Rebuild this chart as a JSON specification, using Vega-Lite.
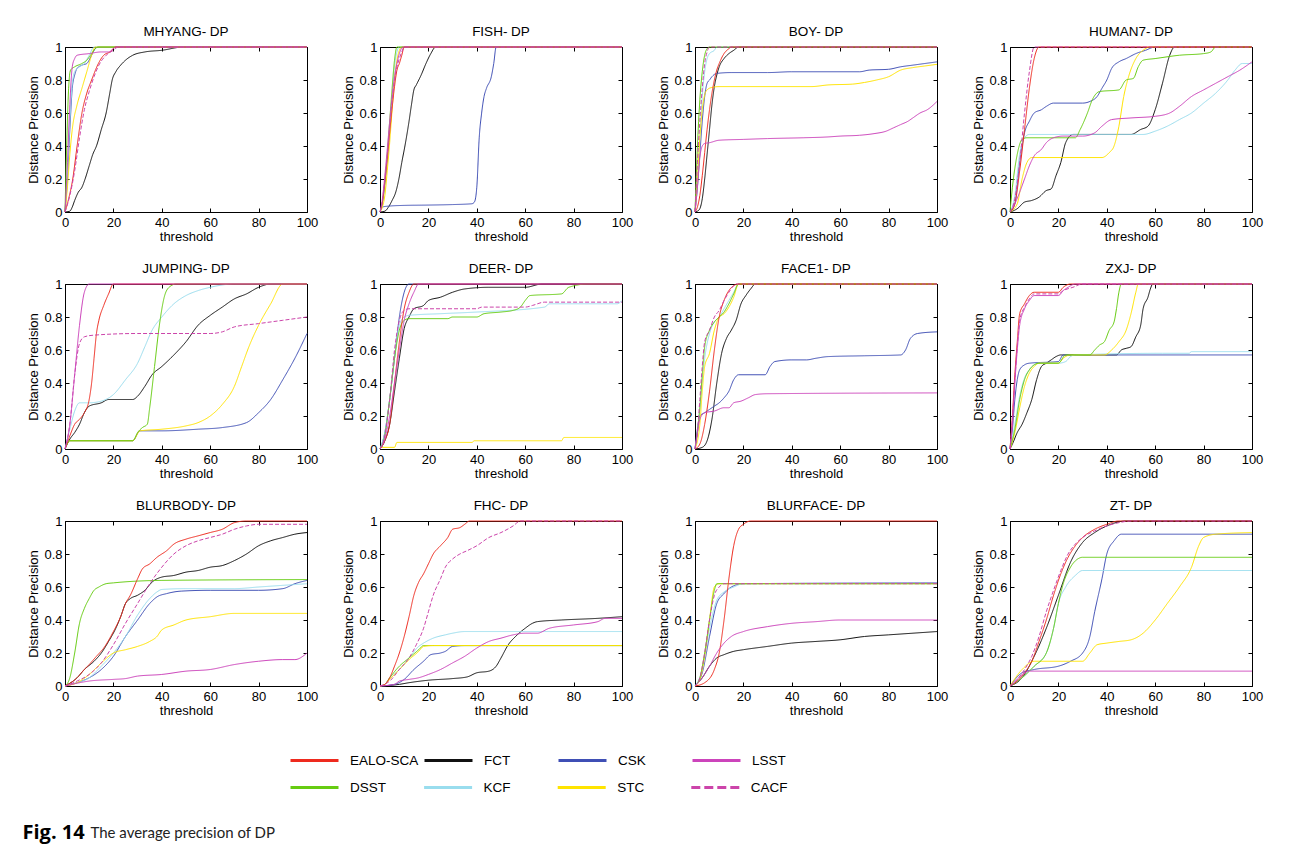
{
"$schema":"https://vega.github.io/schema/vega-lite/v6.json",
"background":"white",
"padding":{"left":22,"top":24,"right":5,"bottom":5},
"config":{
 "view":{"stroke":"black","strokeWidth":1},
 "axis":{"domain":false,"grid":false,"tickColor":"black","tickSize":-4,"labelFont":"Liberation Sans","labelFontSize":13,"labelColor":"black","labelFlush":false,"titleFont":"Liberation Sans","titleFontSize":13,"titleFontWeight":"normal","titleColor":"black"},
 "axisX":{"labelPadding":8},
 "axisY":{"labelPadding":7},
 "legend":{"columns":4,"direction":"horizontal","gridAlign":"all","symbolType":"stroke","symbolSize":2304,"symbolStrokeWidth":3,"labelFont":"Liberation Sans Narrow, Liberation Sans","labelFontSize":13.5,"labelColor":"black","labelOffset":10,"rowPadding":0}
},
"vconcat":[
{
"data":{"values":[
{"s":"MHYANG","t":"FCT","x":0,"y":0},{"s":"MHYANG","t":"FCT","x":2,"y":0.005},{"s":"MHYANG","t":"FCT","x":3,"y":0.03},{"s":"MHYANG","t":"FCT","x":4,"y":0.07},{"s":"MHYANG","t":"FCT","x":5.5,"y":0.12},{"s":"MHYANG","t":"FCT","x":7,"y":0.15},{"s":"MHYANG","t":"FCT","x":8.3,"y":0.2},{"s":"MHYANG","t":"FCT","x":10,"y":0.28},{"s":"MHYANG","t":"FCT","x":11.5,"y":0.35},{"s":"MHYANG","t":"FCT","x":13,"y":0.4},{"s":"MHYANG","t":"FCT","x":15,"y":0.5},{"s":"MHYANG","t":"FCT","x":17,"y":0.6},{"s":"MHYANG","t":"FCT","x":18.5,"y":0.72},{"s":"MHYANG","t":"FCT","x":19.5,"y":0.8},{"s":"MHYANG","t":"FCT","x":21,"y":0.85},{"s":"MHYANG","t":"FCT","x":23,"y":0.89},{"s":"MHYANG","t":"FCT","x":25,"y":0.92},{"s":"MHYANG","t":"FCT","x":28,"y":0.95},{"s":"MHYANG","t":"FCT","x":33,"y":0.97},{"s":"MHYANG","t":"FCT","x":40,"y":0.98},{"s":"MHYANG","t":"FCT","x":49,"y":1},{"s":"MHYANG","t":"FCT","x":100,"y":1},
{"s":"MHYANG","t":"CSK","x":0,"y":0},{"s":"MHYANG","t":"CSK","x":1,"y":0.2},{"s":"MHYANG","t":"CSK","x":2,"y":0.5},{"s":"MHYANG","t":"CSK","x":3,"y":0.75},{"s":"MHYANG","t":"CSK","x":4,"y":0.83},{"s":"MHYANG","t":"CSK","x":5,"y":0.87},{"s":"MHYANG","t":"CSK","x":7,"y":0.89},{"s":"MHYANG","t":"CSK","x":9,"y":0.9},{"s":"MHYANG","t":"CSK","x":11,"y":0.95},{"s":"MHYANG","t":"CSK","x":12.5,"y":0.99},{"s":"MHYANG","t":"CSK","x":13.5,"y":1},{"s":"MHYANG","t":"CSK","x":100,"y":1},
{"s":"MHYANG","t":"KCF","x":0,"y":0},{"s":"MHYANG","t":"KCF","x":1,"y":0.25},{"s":"MHYANG","t":"KCF","x":2,"y":0.55},{"s":"MHYANG","t":"KCF","x":3,"y":0.78},{"s":"MHYANG","t":"KCF","x":4,"y":0.85},{"s":"MHYANG","t":"KCF","x":6,"y":0.88},{"s":"MHYANG","t":"KCF","x":8,"y":0.9},{"s":"MHYANG","t":"KCF","x":10,"y":0.95},{"s":"MHYANG","t":"KCF","x":12,"y":1},{"s":"MHYANG","t":"KCF","x":100,"y":1},
{"s":"MHYANG","t":"STC","x":0,"y":0},{"s":"MHYANG","t":"STC","x":1,"y":0.15},{"s":"MHYANG","t":"STC","x":2,"y":0.35},{"s":"MHYANG","t":"STC","x":3,"y":0.5},{"s":"MHYANG","t":"STC","x":5,"y":0.65},{"s":"MHYANG","t":"STC","x":7,"y":0.75},{"s":"MHYANG","t":"STC","x":9,"y":0.85},{"s":"MHYANG","t":"STC","x":11,"y":0.95},{"s":"MHYANG","t":"STC","x":12.5,"y":1},{"s":"MHYANG","t":"STC","x":100,"y":1},
{"s":"MHYANG","t":"DSST","x":0,"y":0},{"s":"MHYANG","t":"DSST","x":0.7,"y":0.4},{"s":"MHYANG","t":"DSST","x":1.5,"y":0.75},{"s":"MHYANG","t":"DSST","x":2.3,"y":0.86},{"s":"MHYANG","t":"DSST","x":4,"y":0.88},{"s":"MHYANG","t":"DSST","x":7,"y":0.9},{"s":"MHYANG","t":"DSST","x":9,"y":0.92},{"s":"MHYANG","t":"DSST","x":11,"y":0.96},{"s":"MHYANG","t":"DSST","x":12.5,"y":0.99},{"s":"MHYANG","t":"DSST","x":14,"y":1},{"s":"MHYANG","t":"DSST","x":100,"y":1},
{"s":"MHYANG","t":"EALO-SCA","x":0,"y":0},{"s":"MHYANG","t":"EALO-SCA","x":1.5,"y":0.08},{"s":"MHYANG","t":"EALO-SCA","x":3.2,"y":0.2},{"s":"MHYANG","t":"EALO-SCA","x":5,"y":0.4},{"s":"MHYANG","t":"EALO-SCA","x":7,"y":0.6},{"s":"MHYANG","t":"EALO-SCA","x":9,"y":0.72},{"s":"MHYANG","t":"EALO-SCA","x":11,"y":0.8},{"s":"MHYANG","t":"EALO-SCA","x":13.8,"y":0.9},{"s":"MHYANG","t":"EALO-SCA","x":16,"y":0.95},{"s":"MHYANG","t":"EALO-SCA","x":18.6,"y":0.97},{"s":"MHYANG","t":"EALO-SCA","x":21,"y":1},{"s":"MHYANG","t":"EALO-SCA","x":100,"y":1},
{"s":"MHYANG","t":"CACF","x":0,"y":0},{"s":"MHYANG","t":"CACF","x":2,"y":0.1},{"s":"MHYANG","t":"CACF","x":4,"y":0.25},{"s":"MHYANG","t":"CACF","x":6,"y":0.45},{"s":"MHYANG","t":"CACF","x":8,"y":0.62},{"s":"MHYANG","t":"CACF","x":10,"y":0.73},{"s":"MHYANG","t":"CACF","x":12,"y":0.82},{"s":"MHYANG","t":"CACF","x":14,"y":0.89},{"s":"MHYANG","t":"CACF","x":17,"y":0.95},{"s":"MHYANG","t":"CACF","x":20,"y":0.98},{"s":"MHYANG","t":"CACF","x":22,"y":1},{"s":"MHYANG","t":"CACF","x":100,"y":1},
{"s":"MHYANG","t":"LSST","x":0,"y":0},{"s":"MHYANG","t":"LSST","x":1,"y":0.3},{"s":"MHYANG","t":"LSST","x":2,"y":0.65},{"s":"MHYANG","t":"LSST","x":3,"y":0.88},{"s":"MHYANG","t":"LSST","x":4,"y":0.93},{"s":"MHYANG","t":"LSST","x":5,"y":0.95},{"s":"MHYANG","t":"LSST","x":10,"y":0.96},{"s":"MHYANG","t":"LSST","x":15,"y":0.97},{"s":"MHYANG","t":"LSST","x":18,"y":0.97},{"s":"MHYANG","t":"LSST","x":20,"y":0.99},{"s":"MHYANG","t":"LSST","x":21,"y":1},{"s":"MHYANG","t":"LSST","x":100,"y":1},

{"s":"FISH","t":"FCT","x":0,"y":0},{"s":"FISH","t":"FCT","x":2,"y":0.005},{"s":"FISH","t":"FCT","x":3.5,"y":0.03},{"s":"FISH","t":"FCT","x":5,"y":0.07},{"s":"FISH","t":"FCT","x":6.5,"y":0.12},{"s":"FISH","t":"FCT","x":7.8,"y":0.2},{"s":"FISH","t":"FCT","x":9,"y":0.3},{"s":"FISH","t":"FCT","x":10.3,"y":0.4},{"s":"FISH","t":"FCT","x":12,"y":0.55},{"s":"FISH","t":"FCT","x":13,"y":0.65},{"s":"FISH","t":"FCT","x":14,"y":0.74},{"s":"FISH","t":"FCT","x":15,"y":0.77},{"s":"FISH","t":"FCT","x":17,"y":0.83},{"s":"FISH","t":"FCT","x":19,"y":0.9},{"s":"FISH","t":"FCT","x":21,"y":0.96},{"s":"FISH","t":"FCT","x":23,"y":1},{"s":"FISH","t":"FCT","x":100,"y":1},
{"s":"FISH","t":"CSK","x":0,"y":0.02},{"s":"FISH","t":"CSK","x":1,"y":0.03},{"s":"FISH","t":"CSK","x":3,"y":0.035},{"s":"FISH","t":"CSK","x":10,"y":0.04},{"s":"FISH","t":"CSK","x":20,"y":0.042},{"s":"FISH","t":"CSK","x":30,"y":0.045},{"s":"FISH","t":"CSK","x":38,"y":0.05},{"s":"FISH","t":"CSK","x":39,"y":0.06},{"s":"FISH","t":"CSK","x":40,"y":0.15},{"s":"FISH","t":"CSK","x":41,"y":0.45},{"s":"FISH","t":"CSK","x":42,"y":0.6},{"s":"FISH","t":"CSK","x":43,"y":0.7},{"s":"FISH","t":"CSK","x":44,"y":0.75},{"s":"FISH","t":"CSK","x":46,"y":0.82},{"s":"FISH","t":"CSK","x":47,"y":0.9},{"s":"FISH","t":"CSK","x":48,"y":1},{"s":"FISH","t":"CSK","x":100,"y":1},
{"s":"FISH","t":"KCF","x":0,"y":0},{"s":"FISH","t":"KCF","x":1,"y":0.05},{"s":"FISH","t":"KCF","x":2,"y":0.15},{"s":"FISH","t":"KCF","x":3,"y":0.3},{"s":"FISH","t":"KCF","x":4,"y":0.5},{"s":"FISH","t":"KCF","x":5,"y":0.7},{"s":"FISH","t":"KCF","x":6,"y":0.88},{"s":"FISH","t":"KCF","x":7,"y":0.97},{"s":"FISH","t":"KCF","x":8,"y":1},{"s":"FISH","t":"KCF","x":100,"y":1},
{"s":"FISH","t":"STC","x":0,"y":0},{"s":"FISH","t":"STC","x":1,"y":0.03},{"s":"FISH","t":"STC","x":2,"y":0.1},{"s":"FISH","t":"STC","x":3,"y":0.25},{"s":"FISH","t":"STC","x":4,"y":0.42},{"s":"FISH","t":"STC","x":5,"y":0.62},{"s":"FISH","t":"STC","x":6,"y":0.8},{"s":"FISH","t":"STC","x":7,"y":0.92},{"s":"FISH","t":"STC","x":8,"y":0.98},{"s":"FISH","t":"STC","x":9,"y":1},{"s":"FISH","t":"STC","x":100,"y":1},
{"s":"FISH","t":"DSST","x":0,"y":0},{"s":"FISH","t":"DSST","x":1,"y":0.06},{"s":"FISH","t":"DSST","x":2,"y":0.18},{"s":"FISH","t":"DSST","x":3,"y":0.35},{"s":"FISH","t":"DSST","x":4,"y":0.55},{"s":"FISH","t":"DSST","x":5,"y":0.75},{"s":"FISH","t":"DSST","x":6,"y":0.92},{"s":"FISH","t":"DSST","x":7,"y":1},{"s":"FISH","t":"DSST","x":100,"y":1},
{"s":"FISH","t":"EALO-SCA","x":0,"y":0},{"s":"FISH","t":"EALO-SCA","x":1,"y":0.06},{"s":"FISH","t":"EALO-SCA","x":2,"y":0.18},{"s":"FISH","t":"EALO-SCA","x":3,"y":0.32},{"s":"FISH","t":"EALO-SCA","x":4,"y":0.48},{"s":"FISH","t":"EALO-SCA","x":5,"y":0.63},{"s":"FISH","t":"EALO-SCA","x":6,"y":0.76},{"s":"FISH","t":"EALO-SCA","x":7,"y":0.86},{"s":"FISH","t":"EALO-SCA","x":8,"y":0.9},{"s":"FISH","t":"EALO-SCA","x":9,"y":0.95},{"s":"FISH","t":"EALO-SCA","x":10,"y":1},{"s":"FISH","t":"EALO-SCA","x":100,"y":1},
{"s":"FISH","t":"CACF","x":0,"y":0},{"s":"FISH","t":"CACF","x":1,"y":0.07},{"s":"FISH","t":"CACF","x":2,"y":0.2},{"s":"FISH","t":"CACF","x":3,"y":0.35},{"s":"FISH","t":"CACF","x":4,"y":0.52},{"s":"FISH","t":"CACF","x":5,"y":0.67},{"s":"FISH","t":"CACF","x":6,"y":0.8},{"s":"FISH","t":"CACF","x":7,"y":0.88},{"s":"FISH","t":"CACF","x":8,"y":0.93},{"s":"FISH","t":"CACF","x":9,"y":0.97},{"s":"FISH","t":"CACF","x":10,"y":1},{"s":"FISH","t":"CACF","x":100,"y":1},
{"s":"FISH","t":"LSST","x":0,"y":0},{"s":"FISH","t":"LSST","x":1,"y":0.08},{"s":"FISH","t":"LSST","x":2,"y":0.22},{"s":"FISH","t":"LSST","x":3,"y":0.38},{"s":"FISH","t":"LSST","x":4,"y":0.55},{"s":"FISH","t":"LSST","x":5,"y":0.7},{"s":"FISH","t":"LSST","x":6,"y":0.82},{"s":"FISH","t":"LSST","x":7,"y":0.9},{"s":"FISH","t":"LSST","x":8,"y":0.96},{"s":"FISH","t":"LSST","x":9.5,"y":1},{"s":"FISH","t":"LSST","x":100,"y":1},

{"s":"BOY","t":"FCT","x":0,"y":0},{"s":"BOY","t":"FCT","x":1,"y":0.005},{"s":"BOY","t":"FCT","x":2,"y":0.02},{"s":"BOY","t":"FCT","x":3,"y":0.08},{"s":"BOY","t":"FCT","x":4,"y":0.2},{"s":"BOY","t":"FCT","x":5,"y":0.35},{"s":"BOY","t":"FCT","x":6,"y":0.5},{"s":"BOY","t":"FCT","x":7,"y":0.65},{"s":"BOY","t":"FCT","x":8,"y":0.76},{"s":"BOY","t":"FCT","x":9,"y":0.83},{"s":"BOY","t":"FCT","x":10,"y":0.88},{"s":"BOY","t":"FCT","x":12,"y":0.93},{"s":"BOY","t":"FCT","x":14,"y":0.96},{"s":"BOY","t":"FCT","x":16,"y":0.98},{"s":"BOY","t":"FCT","x":18,"y":1},{"s":"BOY","t":"FCT","x":100,"y":1},
{"s":"BOY","t":"CSK","x":0,"y":0},{"s":"BOY","t":"CSK","x":1,"y":0.15},{"s":"BOY","t":"CSK","x":2,"y":0.35},{"s":"BOY","t":"CSK","x":3,"y":0.55},{"s":"BOY","t":"CSK","x":4,"y":0.7},{"s":"BOY","t":"CSK","x":5,"y":0.78},{"s":"BOY","t":"CSK","x":6,"y":0.8},{"s":"BOY","t":"CSK","x":7,"y":0.82},{"s":"BOY","t":"CSK","x":9,"y":0.84},{"s":"BOY","t":"CSK","x":15,"y":0.845},{"s":"BOY","t":"CSK","x":30,"y":0.845},{"s":"BOY","t":"CSK","x":40,"y":0.85},{"s":"BOY","t":"CSK","x":68,"y":0.85},{"s":"BOY","t":"CSK","x":72,"y":0.86},{"s":"BOY","t":"CSK","x":80,"y":0.865},{"s":"BOY","t":"CSK","x":85,"y":0.88},{"s":"BOY","t":"CSK","x":90,"y":0.89},{"s":"BOY","t":"CSK","x":95,"y":0.9},{"s":"BOY","t":"CSK","x":100,"y":0.91},
{"s":"BOY","t":"KCF","x":0,"y":0},{"s":"BOY","t":"KCF","x":1,"y":0.2},{"s":"BOY","t":"KCF","x":2,"y":0.45},{"s":"BOY","t":"KCF","x":3,"y":0.7},{"s":"BOY","t":"KCF","x":4,"y":0.85},{"s":"BOY","t":"KCF","x":5,"y":0.93},{"s":"BOY","t":"KCF","x":6,"y":0.96},{"s":"BOY","t":"KCF","x":8,"y":0.98},{"s":"BOY","t":"KCF","x":9,"y":1},{"s":"BOY","t":"KCF","x":100,"y":1},
{"s":"BOY","t":"STC","x":0,"y":0},{"s":"BOY","t":"STC","x":1,"y":0.2},{"s":"BOY","t":"STC","x":2,"y":0.45},{"s":"BOY","t":"STC","x":3,"y":0.62},{"s":"BOY","t":"STC","x":4,"y":0.71},{"s":"BOY","t":"STC","x":5,"y":0.74},{"s":"BOY","t":"STC","x":7,"y":0.755},{"s":"BOY","t":"STC","x":10,"y":0.76},{"s":"BOY","t":"STC","x":48,"y":0.76},{"s":"BOY","t":"STC","x":55,"y":0.77},{"s":"BOY","t":"STC","x":65,"y":0.775},{"s":"BOY","t":"STC","x":70,"y":0.785},{"s":"BOY","t":"STC","x":75,"y":0.8},{"s":"BOY","t":"STC","x":80,"y":0.82},{"s":"BOY","t":"STC","x":85,"y":0.86},{"s":"BOY","t":"STC","x":90,"y":0.875},{"s":"BOY","t":"STC","x":95,"y":0.885},{"s":"BOY","t":"STC","x":100,"y":0.895},
{"s":"BOY","t":"DSST","x":0,"y":0},{"s":"BOY","t":"DSST","x":0.5,"y":0.2},{"s":"BOY","t":"DSST","x":1,"y":0.4},{"s":"BOY","t":"DSST","x":1.5,"y":0.55},{"s":"BOY","t":"DSST","x":2,"y":0.68},{"s":"BOY","t":"DSST","x":3,"y":0.85},{"s":"BOY","t":"DSST","x":4,"y":0.95},{"s":"BOY","t":"DSST","x":5,"y":0.99},{"s":"BOY","t":"DSST","x":6,"y":1},{"s":"BOY","t":"DSST","x":100,"y":1},
{"s":"BOY","t":"EALO-SCA","x":0,"y":0},{"s":"BOY","t":"EALO-SCA","x":1,"y":0.03},{"s":"BOY","t":"EALO-SCA","x":2,"y":0.1},{"s":"BOY","t":"EALO-SCA","x":3,"y":0.22},{"s":"BOY","t":"EALO-SCA","x":4,"y":0.36},{"s":"BOY","t":"EALO-SCA","x":5,"y":0.5},{"s":"BOY","t":"EALO-SCA","x":6,"y":0.62},{"s":"BOY","t":"EALO-SCA","x":7,"y":0.72},{"s":"BOY","t":"EALO-SCA","x":8,"y":0.8},{"s":"BOY","t":"EALO-SCA","x":9,"y":0.86},{"s":"BOY","t":"EALO-SCA","x":10,"y":0.9},{"s":"BOY","t":"EALO-SCA","x":12,"y":0.96},{"s":"BOY","t":"EALO-SCA","x":14,"y":0.99},{"s":"BOY","t":"EALO-SCA","x":15,"y":1},{"s":"BOY","t":"EALO-SCA","x":100,"y":1},
{"s":"BOY","t":"CACF","x":0,"y":0},{"s":"BOY","t":"CACF","x":1,"y":0.3},{"s":"BOY","t":"CACF","x":2,"y":0.55},{"s":"BOY","t":"CACF","x":3,"y":0.75},{"s":"BOY","t":"CACF","x":4,"y":0.9},{"s":"BOY","t":"CACF","x":5,"y":0.97},{"s":"BOY","t":"CACF","x":6,"y":1},{"s":"BOY","t":"CACF","x":100,"y":1},
{"s":"BOY","t":"LSST","x":0,"y":0},{"s":"BOY","t":"LSST","x":1,"y":0.15},{"s":"BOY","t":"LSST","x":2,"y":0.33},{"s":"BOY","t":"LSST","x":3,"y":0.4},{"s":"BOY","t":"LSST","x":4,"y":0.415},{"s":"BOY","t":"LSST","x":6,"y":0.42},{"s":"BOY","t":"LSST","x":10,"y":0.435},{"s":"BOY","t":"LSST","x":20,"y":0.44},{"s":"BOY","t":"LSST","x":30,"y":0.445},{"s":"BOY","t":"LSST","x":45,"y":0.45},{"s":"BOY","t":"LSST","x":55,"y":0.455},{"s":"BOY","t":"LSST","x":60,"y":0.46},{"s":"BOY","t":"LSST","x":68,"y":0.465},{"s":"BOY","t":"LSST","x":74,"y":0.475},{"s":"BOY","t":"LSST","x":79,"y":0.49},{"s":"BOY","t":"LSST","x":82,"y":0.51},{"s":"BOY","t":"LSST","x":85,"y":0.53},{"s":"BOY","t":"LSST","x":88,"y":0.55},{"s":"BOY","t":"LSST","x":90,"y":0.57},{"s":"BOY","t":"LSST","x":93,"y":0.6},{"s":"BOY","t":"LSST","x":96,"y":0.62},{"s":"BOY","t":"LSST","x":100,"y":0.67},

{"s":"HUMAN7","t":"FCT","x":0,"y":0},{"s":"HUMAN7","t":"FCT","x":3,"y":0.02},{"s":"HUMAN7","t":"FCT","x":6,"y":0.06},{"s":"HUMAN7","t":"FCT","x":9,"y":0.07},{"s":"HUMAN7","t":"FCT","x":12,"y":0.09},{"s":"HUMAN7","t":"FCT","x":15,"y":0.13},{"s":"HUMAN7","t":"FCT","x":17,"y":0.14},{"s":"HUMAN7","t":"FCT","x":19,"y":0.22},{"s":"HUMAN7","t":"FCT","x":21,"y":0.3},{"s":"HUMAN7","t":"FCT","x":23,"y":0.42},{"s":"HUMAN7","t":"FCT","x":26,"y":0.47},{"s":"HUMAN7","t":"FCT","x":50,"y":0.47},{"s":"HUMAN7","t":"FCT","x":54,"y":0.5},{"s":"HUMAN7","t":"FCT","x":57,"y":0.52},{"s":"HUMAN7","t":"FCT","x":60,"y":0.62},{"s":"HUMAN7","t":"FCT","x":63,"y":0.78},{"s":"HUMAN7","t":"FCT","x":66,"y":0.95},{"s":"HUMAN7","t":"FCT","x":68,"y":1},{"s":"HUMAN7","t":"FCT","x":100,"y":1},
{"s":"HUMAN7","t":"CSK","x":0,"y":0},{"s":"HUMAN7","t":"CSK","x":2,"y":0.05},{"s":"HUMAN7","t":"CSK","x":4,"y":0.3},{"s":"HUMAN7","t":"CSK","x":6,"y":0.48},{"s":"HUMAN7","t":"CSK","x":8,"y":0.55},{"s":"HUMAN7","t":"CSK","x":10,"y":0.6},{"s":"HUMAN7","t":"CSK","x":13,"y":0.62},{"s":"HUMAN7","t":"CSK","x":15,"y":0.64},{"s":"HUMAN7","t":"CSK","x":18,"y":0.66},{"s":"HUMAN7","t":"CSK","x":30,"y":0.66},{"s":"HUMAN7","t":"CSK","x":33,"y":0.67},{"s":"HUMAN7","t":"CSK","x":36,"y":0.7},{"s":"HUMAN7","t":"CSK","x":38,"y":0.75},{"s":"HUMAN7","t":"CSK","x":40,"y":0.8},{"s":"HUMAN7","t":"CSK","x":42,"y":0.87},{"s":"HUMAN7","t":"CSK","x":45,"y":0.91},{"s":"HUMAN7","t":"CSK","x":48,"y":0.93},{"s":"HUMAN7","t":"CSK","x":52,"y":0.96},{"s":"HUMAN7","t":"CSK","x":56,"y":0.98},{"s":"HUMAN7","t":"CSK","x":60,"y":1},{"s":"HUMAN7","t":"CSK","x":100,"y":1},
{"s":"HUMAN7","t":"KCF","x":0,"y":0},{"s":"HUMAN7","t":"KCF","x":2,"y":0.1},{"s":"HUMAN7","t":"KCF","x":4,"y":0.35},{"s":"HUMAN7","t":"KCF","x":6,"y":0.45},{"s":"HUMAN7","t":"KCF","x":8,"y":0.47},{"s":"HUMAN7","t":"KCF","x":55,"y":0.47},{"s":"HUMAN7","t":"KCF","x":60,"y":0.49},{"s":"HUMAN7","t":"KCF","x":65,"y":0.52},{"s":"HUMAN7","t":"KCF","x":70,"y":0.56},{"s":"HUMAN7","t":"KCF","x":75,"y":0.6},{"s":"HUMAN7","t":"KCF","x":80,"y":0.66},{"s":"HUMAN7","t":"KCF","x":85,"y":0.72},{"s":"HUMAN7","t":"KCF","x":90,"y":0.8},{"s":"HUMAN7","t":"KCF","x":93,"y":0.86},{"s":"HUMAN7","t":"KCF","x":96,"y":0.9},{"s":"HUMAN7","t":"KCF","x":100,"y":0.9},
{"s":"HUMAN7","t":"STC","x":0,"y":0},{"s":"HUMAN7","t":"STC","x":3,"y":0.05},{"s":"HUMAN7","t":"STC","x":5,"y":0.2},{"s":"HUMAN7","t":"STC","x":7,"y":0.3},{"s":"HUMAN7","t":"STC","x":9,"y":0.33},{"s":"HUMAN7","t":"STC","x":38,"y":0.33},{"s":"HUMAN7","t":"STC","x":41,"y":0.36},{"s":"HUMAN7","t":"STC","x":43,"y":0.4},{"s":"HUMAN7","t":"STC","x":45,"y":0.52},{"s":"HUMAN7","t":"STC","x":47,"y":0.7},{"s":"HUMAN7","t":"STC","x":49,"y":0.82},{"s":"HUMAN7","t":"STC","x":52,"y":0.93},{"s":"HUMAN7","t":"STC","x":55,"y":0.98},{"s":"HUMAN7","t":"STC","x":58,"y":1},{"s":"HUMAN7","t":"STC","x":100,"y":1},
{"s":"HUMAN7","t":"DSST","x":0,"y":0},{"s":"HUMAN7","t":"DSST","x":1,"y":0.15},{"s":"HUMAN7","t":"DSST","x":3,"y":0.35},{"s":"HUMAN7","t":"DSST","x":5,"y":0.44},{"s":"HUMAN7","t":"DSST","x":7,"y":0.45},{"s":"HUMAN7","t":"DSST","x":27,"y":0.45},{"s":"HUMAN7","t":"DSST","x":29,"y":0.5},{"s":"HUMAN7","t":"DSST","x":32,"y":0.6},{"s":"HUMAN7","t":"DSST","x":34,"y":0.68},{"s":"HUMAN7","t":"DSST","x":37,"y":0.73},{"s":"HUMAN7","t":"DSST","x":45,"y":0.74},{"s":"HUMAN7","t":"DSST","x":48,"y":0.8},{"s":"HUMAN7","t":"DSST","x":51,"y":0.81},{"s":"HUMAN7","t":"DSST","x":53,"y":0.88},{"s":"HUMAN7","t":"DSST","x":55,"y":0.92},{"s":"HUMAN7","t":"DSST","x":60,"y":0.93},{"s":"HUMAN7","t":"DSST","x":70,"y":0.95},{"s":"HUMAN7","t":"DSST","x":80,"y":0.96},{"s":"HUMAN7","t":"DSST","x":83,"y":0.97},{"s":"HUMAN7","t":"DSST","x":85,"y":1},{"s":"HUMAN7","t":"DSST","x":100,"y":1},
{"s":"HUMAN7","t":"EALO-SCA","x":0,"y":0},{"s":"HUMAN7","t":"EALO-SCA","x":2,"y":0.05},{"s":"HUMAN7","t":"EALO-SCA","x":4,"y":0.25},{"s":"HUMAN7","t":"EALO-SCA","x":6,"y":0.5},{"s":"HUMAN7","t":"EALO-SCA","x":8,"y":0.75},{"s":"HUMAN7","t":"EALO-SCA","x":10,"y":0.93},{"s":"HUMAN7","t":"EALO-SCA","x":12,"y":1},{"s":"HUMAN7","t":"EALO-SCA","x":100,"y":1},
{"s":"HUMAN7","t":"CACF","x":0,"y":0},{"s":"HUMAN7","t":"CACF","x":2,"y":0.08},{"s":"HUMAN7","t":"CACF","x":4,"y":0.3},{"s":"HUMAN7","t":"CACF","x":6,"y":0.6},{"s":"HUMAN7","t":"CACF","x":8,"y":0.85},{"s":"HUMAN7","t":"CACF","x":10,"y":1},{"s":"HUMAN7","t":"CACF","x":100,"y":1},
{"s":"HUMAN7","t":"LSST","x":0,"y":0},{"s":"HUMAN7","t":"LSST","x":2,"y":0.05},{"s":"HUMAN7","t":"LSST","x":4,"y":0.12},{"s":"HUMAN7","t":"LSST","x":6,"y":0.2},{"s":"HUMAN7","t":"LSST","x":8,"y":0.28},{"s":"HUMAN7","t":"LSST","x":10,"y":0.34},{"s":"HUMAN7","t":"LSST","x":13,"y":0.38},{"s":"HUMAN7","t":"LSST","x":15,"y":0.42},{"s":"HUMAN7","t":"LSST","x":18,"y":0.45},{"s":"HUMAN7","t":"LSST","x":22,"y":0.46},{"s":"HUMAN7","t":"LSST","x":30,"y":0.46},{"s":"HUMAN7","t":"LSST","x":35,"y":0.48},{"s":"HUMAN7","t":"LSST","x":38,"y":0.52},{"s":"HUMAN7","t":"LSST","x":42,"y":0.56},{"s":"HUMAN7","t":"LSST","x":50,"y":0.57},{"s":"HUMAN7","t":"LSST","x":60,"y":0.58},{"s":"HUMAN7","t":"LSST","x":66,"y":0.6},{"s":"HUMAN7","t":"LSST","x":70,"y":0.64},{"s":"HUMAN7","t":"LSST","x":75,"y":0.7},{"s":"HUMAN7","t":"LSST","x":80,"y":0.74},{"s":"HUMAN7","t":"LSST","x":85,"y":0.78},{"s":"HUMAN7","t":"LSST","x":90,"y":0.82},{"s":"HUMAN7","t":"LSST","x":95,"y":0.86},{"s":"HUMAN7","t":"LSST","x":100,"y":0.91},

{"s":"JUMPING","t":"FCT","x":0,"y":0},{"s":"JUMPING","t":"FCT","x":2,"y":0.06},{"s":"JUMPING","t":"FCT","x":4,"y":0.1},{"s":"JUMPING","t":"FCT","x":6,"y":0.15},{"s":"JUMPING","t":"FCT","x":8,"y":0.22},{"s":"JUMPING","t":"FCT","x":10,"y":0.26},{"s":"JUMPING","t":"FCT","x":15,"y":0.28},{"s":"JUMPING","t":"FCT","x":18,"y":0.3},{"s":"JUMPING","t":"FCT","x":28,"y":0.3},{"s":"JUMPING","t":"FCT","x":30,"y":0.32},{"s":"JUMPING","t":"FCT","x":33,"y":0.38},{"s":"JUMPING","t":"FCT","x":36,"y":0.45},{"s":"JUMPING","t":"FCT","x":40,"y":0.5},{"s":"JUMPING","t":"FCT","x":45,"y":0.57},{"s":"JUMPING","t":"FCT","x":50,"y":0.65},{"s":"JUMPING","t":"FCT","x":55,"y":0.75},{"s":"JUMPING","t":"FCT","x":60,"y":0.81},{"s":"JUMPING","t":"FCT","x":65,"y":0.86},{"s":"JUMPING","t":"FCT","x":70,"y":0.91},{"s":"JUMPING","t":"FCT","x":75,"y":0.94},{"s":"JUMPING","t":"FCT","x":80,"y":0.98},{"s":"JUMPING","t":"FCT","x":85,"y":1},{"s":"JUMPING","t":"FCT","x":100,"y":1},
{"s":"JUMPING","t":"CSK","x":0,"y":0},{"s":"JUMPING","t":"CSK","x":2,"y":0.05},{"s":"JUMPING","t":"CSK","x":28,"y":0.05},{"s":"JUMPING","t":"CSK","x":31,"y":0.11},{"s":"JUMPING","t":"CSK","x":40,"y":0.11},{"s":"JUMPING","t":"CSK","x":55,"y":0.12},{"s":"JUMPING","t":"CSK","x":65,"y":0.13},{"s":"JUMPING","t":"CSK","x":75,"y":0.16},{"s":"JUMPING","t":"CSK","x":80,"y":0.22},{"s":"JUMPING","t":"CSK","x":85,"y":0.3},{"s":"JUMPING","t":"CSK","x":90,"y":0.42},{"s":"JUMPING","t":"CSK","x":95,"y":0.55},{"s":"JUMPING","t":"CSK","x":100,"y":0.7},
{"s":"JUMPING","t":"KCF","x":0,"y":0},{"s":"JUMPING","t":"KCF","x":2,"y":0.12},{"s":"JUMPING","t":"KCF","x":4,"y":0.23},{"s":"JUMPING","t":"KCF","x":6,"y":0.28},{"s":"JUMPING","t":"KCF","x":10,"y":0.28},{"s":"JUMPING","t":"KCF","x":15,"y":0.29},{"s":"JUMPING","t":"KCF","x":20,"y":0.33},{"s":"JUMPING","t":"KCF","x":25,"y":0.42},{"s":"JUMPING","t":"KCF","x":30,"y":0.52},{"s":"JUMPING","t":"KCF","x":33,"y":0.62},{"s":"JUMPING","t":"KCF","x":36,"y":0.72},{"s":"JUMPING","t":"KCF","x":40,"y":0.8},{"s":"JUMPING","t":"KCF","x":45,"y":0.88},{"s":"JUMPING","t":"KCF","x":50,"y":0.93},{"s":"JUMPING","t":"KCF","x":55,"y":0.96},{"s":"JUMPING","t":"KCF","x":60,"y":0.98},{"s":"JUMPING","t":"KCF","x":70,"y":1},{"s":"JUMPING","t":"KCF","x":100,"y":1},
{"s":"JUMPING","t":"STC","x":0,"y":0},{"s":"JUMPING","t":"STC","x":2,"y":0.05},{"s":"JUMPING","t":"STC","x":28,"y":0.05},{"s":"JUMPING","t":"STC","x":31,"y":0.11},{"s":"JUMPING","t":"STC","x":40,"y":0.12},{"s":"JUMPING","t":"STC","x":50,"y":0.14},{"s":"JUMPING","t":"STC","x":55,"y":0.16},{"s":"JUMPING","t":"STC","x":60,"y":0.2},{"s":"JUMPING","t":"STC","x":65,"y":0.27},{"s":"JUMPING","t":"STC","x":70,"y":0.38},{"s":"JUMPING","t":"STC","x":73,"y":0.5},{"s":"JUMPING","t":"STC","x":76,"y":0.62},{"s":"JUMPING","t":"STC","x":80,"y":0.75},{"s":"JUMPING","t":"STC","x":85,"y":0.88},{"s":"JUMPING","t":"STC","x":90,"y":1},{"s":"JUMPING","t":"STC","x":100,"y":1},
{"s":"JUMPING","t":"DSST","x":0,"y":0},{"s":"JUMPING","t":"DSST","x":2,"y":0.05},{"s":"JUMPING","t":"DSST","x":28,"y":0.05},{"s":"JUMPING","t":"DSST","x":30,"y":0.1},{"s":"JUMPING","t":"DSST","x":32,"y":0.13},{"s":"JUMPING","t":"DSST","x":34,"y":0.15},{"s":"JUMPING","t":"DSST","x":35,"y":0.25},{"s":"JUMPING","t":"DSST","x":37,"y":0.5},{"s":"JUMPING","t":"DSST","x":39,"y":0.75},{"s":"JUMPING","t":"DSST","x":41,"y":0.92},{"s":"JUMPING","t":"DSST","x":43,"y":0.98},{"s":"JUMPING","t":"DSST","x":46,"y":1},{"s":"JUMPING","t":"DSST","x":100,"y":1},
{"s":"JUMPING","t":"EALO-SCA","x":0,"y":0},{"s":"JUMPING","t":"EALO-SCA","x":2,"y":0.08},{"s":"JUMPING","t":"EALO-SCA","x":4,"y":0.15},{"s":"JUMPING","t":"EALO-SCA","x":6,"y":0.18},{"s":"JUMPING","t":"EALO-SCA","x":8,"y":0.22},{"s":"JUMPING","t":"EALO-SCA","x":10,"y":0.3},{"s":"JUMPING","t":"EALO-SCA","x":11,"y":0.4},{"s":"JUMPING","t":"EALO-SCA","x":12,"y":0.55},{"s":"JUMPING","t":"EALO-SCA","x":13,"y":0.7},{"s":"JUMPING","t":"EALO-SCA","x":14,"y":0.78},{"s":"JUMPING","t":"EALO-SCA","x":16,"y":0.87},{"s":"JUMPING","t":"EALO-SCA","x":18,"y":0.94},{"s":"JUMPING","t":"EALO-SCA","x":20,"y":1},{"s":"JUMPING","t":"EALO-SCA","x":100,"y":1},
{"s":"JUMPING","t":"CACF","x":0,"y":0},{"s":"JUMPING","t":"CACF","x":2,"y":0.15},{"s":"JUMPING","t":"CACF","x":4,"y":0.45},{"s":"JUMPING","t":"CACF","x":6,"y":0.64},{"s":"JUMPING","t":"CACF","x":8,"y":0.68},{"s":"JUMPING","t":"CACF","x":12,"y":0.69},{"s":"JUMPING","t":"CACF","x":30,"y":0.7},{"s":"JUMPING","t":"CACF","x":60,"y":0.7},{"s":"JUMPING","t":"CACF","x":65,"y":0.71},{"s":"JUMPING","t":"CACF","x":70,"y":0.74},{"s":"JUMPING","t":"CACF","x":80,"y":0.76},{"s":"JUMPING","t":"CACF","x":90,"y":0.78},{"s":"JUMPING","t":"CACF","x":100,"y":0.8},
{"s":"JUMPING","t":"LSST","x":0,"y":0},{"s":"JUMPING","t":"LSST","x":2,"y":0.15},{"s":"JUMPING","t":"LSST","x":4,"y":0.45},{"s":"JUMPING","t":"LSST","x":6,"y":0.75},{"s":"JUMPING","t":"LSST","x":8,"y":0.95},{"s":"JUMPING","t":"LSST","x":10,"y":1},{"s":"JUMPING","t":"LSST","x":100,"y":1},

{"s":"DEER","t":"FCT","x":0,"y":0},{"s":"DEER","t":"FCT","x":2,"y":0.05},{"s":"DEER","t":"FCT","x":4,"y":0.15},{"s":"DEER","t":"FCT","x":6,"y":0.35},{"s":"DEER","t":"FCT","x":8,"y":0.55},{"s":"DEER","t":"FCT","x":10,"y":0.73},{"s":"DEER","t":"FCT","x":12,"y":0.8},{"s":"DEER","t":"FCT","x":14,"y":0.85},{"s":"DEER","t":"FCT","x":18,"y":0.87},{"s":"DEER","t":"FCT","x":20,"y":0.9},{"s":"DEER","t":"FCT","x":25,"y":0.92},{"s":"DEER","t":"FCT","x":30,"y":0.95},{"s":"DEER","t":"FCT","x":35,"y":0.97},{"s":"DEER","t":"FCT","x":45,"y":0.98},{"s":"DEER","t":"FCT","x":60,"y":0.98},{"s":"DEER","t":"FCT","x":67,"y":1},{"s":"DEER","t":"FCT","x":100,"y":1},
{"s":"DEER","t":"CSK","x":0,"y":0},{"s":"DEER","t":"CSK","x":2,"y":0.1},{"s":"DEER","t":"CSK","x":4,"y":0.3},{"s":"DEER","t":"CSK","x":6,"y":0.55},{"s":"DEER","t":"CSK","x":8,"y":0.8},{"s":"DEER","t":"CSK","x":10,"y":0.95},{"s":"DEER","t":"CSK","x":12,"y":1},{"s":"DEER","t":"CSK","x":100,"y":1},
{"s":"DEER","t":"KCF","x":0,"y":0},{"s":"DEER","t":"KCF","x":2,"y":0.1},{"s":"DEER","t":"KCF","x":4,"y":0.3},{"s":"DEER","t":"KCF","x":6,"y":0.55},{"s":"DEER","t":"KCF","x":8,"y":0.75},{"s":"DEER","t":"KCF","x":10,"y":0.8},{"s":"DEER","t":"KCF","x":12,"y":0.81},{"s":"DEER","t":"KCF","x":25,"y":0.82},{"s":"DEER","t":"KCF","x":40,"y":0.83},{"s":"DEER","t":"KCF","x":68,"y":0.86},{"s":"DEER","t":"KCF","x":70,"y":0.88},{"s":"DEER","t":"KCF","x":98,"y":0.88},{"s":"DEER","t":"KCF","x":100,"y":0.9},
{"s":"DEER","t":"STC","x":0,"y":0.01},{"s":"DEER","t":"STC","x":6,"y":0.01},{"s":"DEER","t":"STC","x":7,"y":0.04},{"s":"DEER","t":"STC","x":38,"y":0.04},{"s":"DEER","t":"STC","x":39,"y":0.05},{"s":"DEER","t":"STC","x":75,"y":0.05},{"s":"DEER","t":"STC","x":76,"y":0.07},{"s":"DEER","t":"STC","x":100,"y":0.07},
{"s":"DEER","t":"DSST","x":0,"y":0},{"s":"DEER","t":"DSST","x":2,"y":0.08},{"s":"DEER","t":"DSST","x":4,"y":0.3},{"s":"DEER","t":"DSST","x":6,"y":0.55},{"s":"DEER","t":"DSST","x":8,"y":0.72},{"s":"DEER","t":"DSST","x":10,"y":0.78},{"s":"DEER","t":"DSST","x":12,"y":0.79},{"s":"DEER","t":"DSST","x":28,"y":0.79},{"s":"DEER","t":"DSST","x":30,"y":0.8},{"s":"DEER","t":"DSST","x":40,"y":0.8},{"s":"DEER","t":"DSST","x":43,"y":0.82},{"s":"DEER","t":"DSST","x":50,"y":0.83},{"s":"DEER","t":"DSST","x":55,"y":0.84},{"s":"DEER","t":"DSST","x":58,"y":0.86},{"s":"DEER","t":"DSST","x":60,"y":0.9},{"s":"DEER","t":"DSST","x":62,"y":0.93},{"s":"DEER","t":"DSST","x":75,"y":0.94},{"s":"DEER","t":"DSST","x":78,"y":0.98},{"s":"DEER","t":"DSST","x":86,"y":1},{"s":"DEER","t":"DSST","x":100,"y":1},
{"s":"DEER","t":"EALO-SCA","x":0,"y":0},{"s":"DEER","t":"EALO-SCA","x":2,"y":0.05},{"s":"DEER","t":"EALO-SCA","x":4,"y":0.15},{"s":"DEER","t":"EALO-SCA","x":6,"y":0.4},{"s":"DEER","t":"EALO-SCA","x":8,"y":0.65},{"s":"DEER","t":"EALO-SCA","x":10,"y":0.85},{"s":"DEER","t":"EALO-SCA","x":12,"y":0.95},{"s":"DEER","t":"EALO-SCA","x":14,"y":1},{"s":"DEER","t":"EALO-SCA","x":100,"y":1},
{"s":"DEER","t":"CACF","x":0,"y":0},{"s":"DEER","t":"CACF","x":2,"y":0.08},{"s":"DEER","t":"CACF","x":4,"y":0.3},{"s":"DEER","t":"CACF","x":6,"y":0.6},{"s":"DEER","t":"CACF","x":8,"y":0.78},{"s":"DEER","t":"CACF","x":10,"y":0.84},{"s":"DEER","t":"CACF","x":12,"y":0.85},{"s":"DEER","t":"CACF","x":40,"y":0.85},{"s":"DEER","t":"CACF","x":42,"y":0.86},{"s":"DEER","t":"CACF","x":60,"y":0.86},{"s":"DEER","t":"CACF","x":63,"y":0.87},{"s":"DEER","t":"CACF","x":68,"y":0.89},{"s":"DEER","t":"CACF","x":100,"y":0.89},
{"s":"DEER","t":"LSST","x":0,"y":0},{"s":"DEER","t":"LSST","x":2,"y":0.06},{"s":"DEER","t":"LSST","x":4,"y":0.2},{"s":"DEER","t":"LSST","x":6,"y":0.4},{"s":"DEER","t":"LSST","x":8,"y":0.6},{"s":"DEER","t":"LSST","x":10,"y":0.78},{"s":"DEER","t":"LSST","x":12,"y":0.88},{"s":"DEER","t":"LSST","x":14,"y":0.95},{"s":"DEER","t":"LSST","x":16,"y":1},{"s":"DEER","t":"LSST","x":100,"y":1},

{"s":"FACE1","t":"FCT","x":0,"y":0},{"s":"FACE1","t":"FCT","x":3,"y":0.01},{"s":"FACE1","t":"FCT","x":5,"y":0.05},{"s":"FACE1","t":"FCT","x":7,"y":0.18},{"s":"FACE1","t":"FCT","x":9,"y":0.4},{"s":"FACE1","t":"FCT","x":11,"y":0.58},{"s":"FACE1","t":"FCT","x":13,"y":0.67},{"s":"FACE1","t":"FCT","x":15,"y":0.72},{"s":"FACE1","t":"FCT","x":17,"y":0.78},{"s":"FACE1","t":"FCT","x":19,"y":0.88},{"s":"FACE1","t":"FCT","x":21,"y":0.93},{"s":"FACE1","t":"FCT","x":23,"y":0.97},{"s":"FACE1","t":"FCT","x":25,"y":1},{"s":"FACE1","t":"FCT","x":100,"y":1},
{"s":"FACE1","t":"CSK","x":0,"y":0},{"s":"FACE1","t":"CSK","x":1,"y":0.12},{"s":"FACE1","t":"CSK","x":2,"y":0.2},{"s":"FACE1","t":"CSK","x":4,"y":0.22},{"s":"FACE1","t":"CSK","x":6,"y":0.24},{"s":"FACE1","t":"CSK","x":8,"y":0.26},{"s":"FACE1","t":"CSK","x":10,"y":0.28},{"s":"FACE1","t":"CSK","x":12,"y":0.31},{"s":"FACE1","t":"CSK","x":14,"y":0.35},{"s":"FACE1","t":"CSK","x":16,"y":0.42},{"s":"FACE1","t":"CSK","x":18,"y":0.45},{"s":"FACE1","t":"CSK","x":29,"y":0.45},{"s":"FACE1","t":"CSK","x":31,"y":0.5},{"s":"FACE1","t":"CSK","x":33,"y":0.53},{"s":"FACE1","t":"CSK","x":40,"y":0.54},{"s":"FACE1","t":"CSK","x":46,"y":0.54},{"s":"FACE1","t":"CSK","x":50,"y":0.55},{"s":"FACE1","t":"CSK","x":55,"y":0.56},{"s":"FACE1","t":"CSK","x":70,"y":0.565},{"s":"FACE1","t":"CSK","x":85,"y":0.57},{"s":"FACE1","t":"CSK","x":87,"y":0.6},{"s":"FACE1","t":"CSK","x":89,"y":0.67},{"s":"FACE1","t":"CSK","x":92,"y":0.7},{"s":"FACE1","t":"CSK","x":100,"y":0.71},
{"s":"FACE1","t":"KCF","x":0,"y":0},{"s":"FACE1","t":"KCF","x":1,"y":0.1},{"s":"FACE1","t":"KCF","x":2,"y":0.25},{"s":"FACE1","t":"KCF","x":3,"y":0.42},{"s":"FACE1","t":"KCF","x":4,"y":0.55},{"s":"FACE1","t":"KCF","x":6,"y":0.7},{"s":"FACE1","t":"KCF","x":8,"y":0.77},{"s":"FACE1","t":"KCF","x":10,"y":0.8},{"s":"FACE1","t":"KCF","x":12,"y":0.85},{"s":"FACE1","t":"KCF","x":14,"y":0.9},{"s":"FACE1","t":"KCF","x":16,"y":0.95},{"s":"FACE1","t":"KCF","x":18,"y":1},{"s":"FACE1","t":"KCF","x":100,"y":1},
{"s":"FACE1","t":"STC","x":0,"y":0},{"s":"FACE1","t":"STC","x":2,"y":0.15},{"s":"FACE1","t":"STC","x":3,"y":0.35},{"s":"FACE1","t":"STC","x":4,"y":0.5},{"s":"FACE1","t":"STC","x":6,"y":0.58},{"s":"FACE1","t":"STC","x":8,"y":0.72},{"s":"FACE1","t":"STC","x":10,"y":0.8},{"s":"FACE1","t":"STC","x":12,"y":0.82},{"s":"FACE1","t":"STC","x":14,"y":0.86},{"s":"FACE1","t":"STC","x":16,"y":0.92},{"s":"FACE1","t":"STC","x":18,"y":1},{"s":"FACE1","t":"STC","x":100,"y":1},
{"s":"FACE1","t":"DSST","x":0,"y":0},{"s":"FACE1","t":"DSST","x":1,"y":0.1},{"s":"FACE1","t":"DSST","x":2,"y":0.25},{"s":"FACE1","t":"DSST","x":3,"y":0.45},{"s":"FACE1","t":"DSST","x":4,"y":0.62},{"s":"FACE1","t":"DSST","x":6,"y":0.72},{"s":"FACE1","t":"DSST","x":8,"y":0.77},{"s":"FACE1","t":"DSST","x":10,"y":0.8},{"s":"FACE1","t":"DSST","x":12,"y":0.83},{"s":"FACE1","t":"DSST","x":14,"y":0.88},{"s":"FACE1","t":"DSST","x":16,"y":0.94},{"s":"FACE1","t":"DSST","x":18,"y":1},{"s":"FACE1","t":"DSST","x":100,"y":1},
{"s":"FACE1","t":"EALO-SCA","x":0,"y":0},{"s":"FACE1","t":"EALO-SCA","x":2,"y":0.03},{"s":"FACE1","t":"EALO-SCA","x":4,"y":0.15},{"s":"FACE1","t":"EALO-SCA","x":6,"y":0.35},{"s":"FACE1","t":"EALO-SCA","x":8,"y":0.6},{"s":"FACE1","t":"EALO-SCA","x":10,"y":0.8},{"s":"FACE1","t":"EALO-SCA","x":12,"y":0.9},{"s":"FACE1","t":"EALO-SCA","x":14,"y":0.96},{"s":"FACE1","t":"EALO-SCA","x":16,"y":0.99},{"s":"FACE1","t":"EALO-SCA","x":18,"y":1},{"s":"FACE1","t":"EALO-SCA","x":100,"y":1},
{"s":"FACE1","t":"CACF","x":0,"y":0},{"s":"FACE1","t":"CACF","x":1,"y":0.1},{"s":"FACE1","t":"CACF","x":2,"y":0.3},{"s":"FACE1","t":"CACF","x":3,"y":0.5},{"s":"FACE1","t":"CACF","x":4,"y":0.65},{"s":"FACE1","t":"CACF","x":6,"y":0.72},{"s":"FACE1","t":"CACF","x":8,"y":0.8},{"s":"FACE1","t":"CACF","x":10,"y":0.84},{"s":"FACE1","t":"CACF","x":12,"y":0.9},{"s":"FACE1","t":"CACF","x":14,"y":0.95},{"s":"FACE1","t":"CACF","x":16,"y":0.99},{"s":"FACE1","t":"CACF","x":17,"y":1},{"s":"FACE1","t":"CACF","x":100,"y":1},
{"s":"FACE1","t":"LSST","x":0,"y":0},{"s":"FACE1","t":"LSST","x":1,"y":0.1},{"s":"FACE1","t":"LSST","x":2,"y":0.18},{"s":"FACE1","t":"LSST","x":4,"y":0.22},{"s":"FACE1","t":"LSST","x":8,"y":0.23},{"s":"FACE1","t":"LSST","x":12,"y":0.25},{"s":"FACE1","t":"LSST","x":14,"y":0.25},{"s":"FACE1","t":"LSST","x":16,"y":0.28},{"s":"FACE1","t":"LSST","x":19,"y":0.29},{"s":"FACE1","t":"LSST","x":22,"y":0.31},{"s":"FACE1","t":"LSST","x":25,"y":0.33},{"s":"FACE1","t":"LSST","x":30,"y":0.335},{"s":"FACE1","t":"LSST","x":100,"y":0.34},

{"s":"ZXJ","t":"FCT","x":0,"y":0},{"s":"ZXJ","t":"FCT","x":1,"y":0.03},{"s":"ZXJ","t":"FCT","x":3,"y":0.1},{"s":"ZXJ","t":"FCT","x":5,"y":0.15},{"s":"ZXJ","t":"FCT","x":7,"y":0.22},{"s":"ZXJ","t":"FCT","x":9,"y":0.3},{"s":"ZXJ","t":"FCT","x":11,"y":0.42},{"s":"ZXJ","t":"FCT","x":13,"y":0.5},{"s":"ZXJ","t":"FCT","x":15,"y":0.52},{"s":"ZXJ","t":"FCT","x":17,"y":0.54},{"s":"ZXJ","t":"FCT","x":19,"y":0.56},{"s":"ZXJ","t":"FCT","x":21,"y":0.57},{"s":"ZXJ","t":"FCT","x":44,"y":0.57},{"s":"ZXJ","t":"FCT","x":46,"y":0.6},{"s":"ZXJ","t":"FCT","x":48,"y":0.61},{"s":"ZXJ","t":"FCT","x":50,"y":0.62},{"s":"ZXJ","t":"FCT","x":52,"y":0.68},{"s":"ZXJ","t":"FCT","x":54,"y":0.75},{"s":"ZXJ","t":"FCT","x":55,"y":0.85},{"s":"ZXJ","t":"FCT","x":57,"y":0.92},{"s":"ZXJ","t":"FCT","x":58,"y":0.97},{"s":"ZXJ","t":"FCT","x":59,"y":1},{"s":"ZXJ","t":"FCT","x":100,"y":1},
{"s":"ZXJ","t":"CSK","x":0,"y":0},{"s":"ZXJ","t":"CSK","x":1,"y":0.12},{"s":"ZXJ","t":"CSK","x":2,"y":0.3},{"s":"ZXJ","t":"CSK","x":3,"y":0.42},{"s":"ZXJ","t":"CSK","x":4,"y":0.48},{"s":"ZXJ","t":"CSK","x":6,"y":0.51},{"s":"ZXJ","t":"CSK","x":8,"y":0.52},{"s":"ZXJ","t":"CSK","x":20,"y":0.53},{"s":"ZXJ","t":"CSK","x":22,"y":0.57},{"s":"ZXJ","t":"CSK","x":100,"y":0.57},
{"s":"ZXJ","t":"KCF","x":0,"y":0},{"s":"ZXJ","t":"KCF","x":2,"y":0.15},{"s":"ZXJ","t":"KCF","x":4,"y":0.32},{"s":"ZXJ","t":"KCF","x":6,"y":0.43},{"s":"ZXJ","t":"KCF","x":8,"y":0.48},{"s":"ZXJ","t":"KCF","x":10,"y":0.51},{"s":"ZXJ","t":"KCF","x":12,"y":0.52},{"s":"ZXJ","t":"KCF","x":20,"y":0.52},{"s":"ZXJ","t":"KCF","x":23,"y":0.53},{"s":"ZXJ","t":"KCF","x":25,"y":0.56},{"s":"ZXJ","t":"KCF","x":27,"y":0.57},{"s":"ZXJ","t":"KCF","x":63,"y":0.58},{"s":"ZXJ","t":"KCF","x":74,"y":0.58},{"s":"ZXJ","t":"KCF","x":75,"y":0.59},{"s":"ZXJ","t":"KCF","x":100,"y":0.59},
{"s":"ZXJ","t":"STC","x":0,"y":0},{"s":"ZXJ","t":"STC","x":2,"y":0.1},{"s":"ZXJ","t":"STC","x":4,"y":0.25},{"s":"ZXJ","t":"STC","x":6,"y":0.38},{"s":"ZXJ","t":"STC","x":8,"y":0.46},{"s":"ZXJ","t":"STC","x":10,"y":0.5},{"s":"ZXJ","t":"STC","x":12,"y":0.52},{"s":"ZXJ","t":"STC","x":20,"y":0.52},{"s":"ZXJ","t":"STC","x":22,"y":0.55},{"s":"ZXJ","t":"STC","x":25,"y":0.57},{"s":"ZXJ","t":"STC","x":39,"y":0.57},{"s":"ZXJ","t":"STC","x":42,"y":0.6},{"s":"ZXJ","t":"STC","x":45,"y":0.65},{"s":"ZXJ","t":"STC","x":48,"y":0.72},{"s":"ZXJ","t":"STC","x":50,"y":0.82},{"s":"ZXJ","t":"STC","x":52,"y":0.95},{"s":"ZXJ","t":"STC","x":53,"y":1},{"s":"ZXJ","t":"STC","x":100,"y":1},
{"s":"ZXJ","t":"DSST","x":0,"y":0},{"s":"ZXJ","t":"DSST","x":2,"y":0.12},{"s":"ZXJ","t":"DSST","x":4,"y":0.3},{"s":"ZXJ","t":"DSST","x":6,"y":0.42},{"s":"ZXJ","t":"DSST","x":8,"y":0.48},{"s":"ZXJ","t":"DSST","x":10,"y":0.51},{"s":"ZXJ","t":"DSST","x":12,"y":0.52},{"s":"ZXJ","t":"DSST","x":20,"y":0.52},{"s":"ZXJ","t":"DSST","x":23,"y":0.57},{"s":"ZXJ","t":"DSST","x":33,"y":0.57},{"s":"ZXJ","t":"DSST","x":35,"y":0.6},{"s":"ZXJ","t":"DSST","x":37,"y":0.63},{"s":"ZXJ","t":"DSST","x":39,"y":0.65},{"s":"ZXJ","t":"DSST","x":41,"y":0.72},{"s":"ZXJ","t":"DSST","x":43,"y":0.77},{"s":"ZXJ","t":"DSST","x":44,"y":0.85},{"s":"ZXJ","t":"DSST","x":45,"y":0.95},{"s":"ZXJ","t":"DSST","x":46,"y":1},{"s":"ZXJ","t":"DSST","x":100,"y":1},
{"s":"ZXJ","t":"EALO-SCA","x":0,"y":0},{"s":"ZXJ","t":"EALO-SCA","x":1,"y":0.2},{"s":"ZXJ","t":"EALO-SCA","x":2,"y":0.45},{"s":"ZXJ","t":"EALO-SCA","x":3,"y":0.65},{"s":"ZXJ","t":"EALO-SCA","x":4,"y":0.82},{"s":"ZXJ","t":"EALO-SCA","x":6,"y":0.88},{"s":"ZXJ","t":"EALO-SCA","x":8,"y":0.93},{"s":"ZXJ","t":"EALO-SCA","x":10,"y":0.95},{"s":"ZXJ","t":"EALO-SCA","x":20,"y":0.95},{"s":"ZXJ","t":"EALO-SCA","x":22,"y":0.98},{"s":"ZXJ","t":"EALO-SCA","x":25,"y":1},{"s":"ZXJ","t":"EALO-SCA","x":100,"y":1},
{"s":"ZXJ","t":"CACF","x":0,"y":0},{"s":"ZXJ","t":"CACF","x":1,"y":0.18},{"s":"ZXJ","t":"CACF","x":2,"y":0.42},{"s":"ZXJ","t":"CACF","x":3,"y":0.62},{"s":"ZXJ","t":"CACF","x":4,"y":0.78},{"s":"ZXJ","t":"CACF","x":6,"y":0.86},{"s":"ZXJ","t":"CACF","x":8,"y":0.91},{"s":"ZXJ","t":"CACF","x":10,"y":0.94},{"s":"ZXJ","t":"CACF","x":20,"y":0.94},{"s":"ZXJ","t":"CACF","x":22,"y":0.96},{"s":"ZXJ","t":"CACF","x":26,"y":0.98},{"s":"ZXJ","t":"CACF","x":30,"y":1},{"s":"ZXJ","t":"CACF","x":100,"y":1},
{"s":"ZXJ","t":"LSST","x":0,"y":0},{"s":"ZXJ","t":"LSST","x":1,"y":0.15},{"s":"ZXJ","t":"LSST","x":2,"y":0.4},{"s":"ZXJ","t":"LSST","x":3,"y":0.6},{"s":"ZXJ","t":"LSST","x":4,"y":0.75},{"s":"ZXJ","t":"LSST","x":6,"y":0.85},{"s":"ZXJ","t":"LSST","x":8,"y":0.9},{"s":"ZXJ","t":"LSST","x":10,"y":0.93},{"s":"ZXJ","t":"LSST","x":20,"y":0.93},{"s":"ZXJ","t":"LSST","x":22,"y":0.96},{"s":"ZXJ","t":"LSST","x":24,"y":0.98},{"s":"ZXJ","t":"LSST","x":27,"y":1},{"s":"ZXJ","t":"LSST","x":100,"y":1},

{"s":"BLURBODY","t":"FCT","x":0,"y":0},{"s":"BLURBODY","t":"FCT","x":5,"y":0.05},{"s":"BLURBODY","t":"FCT","x":8,"y":0.1},{"s":"BLURBODY","t":"FCT","x":12,"y":0.15},{"s":"BLURBODY","t":"FCT","x":15,"y":0.2},{"s":"BLURBODY","t":"FCT","x":18,"y":0.27},{"s":"BLURBODY","t":"FCT","x":21,"y":0.35},{"s":"BLURBODY","t":"FCT","x":23,"y":0.42},{"s":"BLURBODY","t":"FCT","x":25,"y":0.5},{"s":"BLURBODY","t":"FCT","x":27,"y":0.53},{"s":"BLURBODY","t":"FCT","x":30,"y":0.55},{"s":"BLURBODY","t":"FCT","x":33,"y":0.58},{"s":"BLURBODY","t":"FCT","x":36,"y":0.63},{"s":"BLURBODY","t":"FCT","x":40,"y":0.66},{"s":"BLURBODY","t":"FCT","x":45,"y":0.67},{"s":"BLURBODY","t":"FCT","x":50,"y":0.69},{"s":"BLURBODY","t":"FCT","x":55,"y":0.7},{"s":"BLURBODY","t":"FCT","x":60,"y":0.72},{"s":"BLURBODY","t":"FCT","x":65,"y":0.73},{"s":"BLURBODY","t":"FCT","x":70,"y":0.76},{"s":"BLURBODY","t":"FCT","x":75,"y":0.8},{"s":"BLURBODY","t":"FCT","x":80,"y":0.85},{"s":"BLURBODY","t":"FCT","x":85,"y":0.88},{"s":"BLURBODY","t":"FCT","x":90,"y":0.9},{"s":"BLURBODY","t":"FCT","x":95,"y":0.92},{"s":"BLURBODY","t":"FCT","x":100,"y":0.93},
{"s":"BLURBODY","t":"CSK","x":0,"y":0},{"s":"BLURBODY","t":"CSK","x":5,"y":0.02},{"s":"BLURBODY","t":"CSK","x":10,"y":0.05},{"s":"BLURBODY","t":"CSK","x":15,"y":0.1},{"s":"BLURBODY","t":"CSK","x":20,"y":0.18},{"s":"BLURBODY","t":"CSK","x":25,"y":0.3},{"s":"BLURBODY","t":"CSK","x":30,"y":0.4},{"s":"BLURBODY","t":"CSK","x":35,"y":0.5},{"s":"BLURBODY","t":"CSK","x":38,"y":0.54},{"s":"BLURBODY","t":"CSK","x":42,"y":0.56},{"s":"BLURBODY","t":"CSK","x":48,"y":0.575},{"s":"BLURBODY","t":"CSK","x":60,"y":0.58},{"s":"BLURBODY","t":"CSK","x":80,"y":0.58},{"s":"BLURBODY","t":"CSK","x":90,"y":0.59},{"s":"BLURBODY","t":"CSK","x":95,"y":0.62},{"s":"BLURBODY","t":"CSK","x":100,"y":0.64},
{"s":"BLURBODY","t":"KCF","x":0,"y":0},{"s":"BLURBODY","t":"KCF","x":5,"y":0.02},{"s":"BLURBODY","t":"KCF","x":10,"y":0.05},{"s":"BLURBODY","t":"KCF","x":15,"y":0.12},{"s":"BLURBODY","t":"KCF","x":20,"y":0.2},{"s":"BLURBODY","t":"KCF","x":25,"y":0.3},{"s":"BLURBODY","t":"KCF","x":30,"y":0.43},{"s":"BLURBODY","t":"KCF","x":35,"y":0.53},{"s":"BLURBODY","t":"KCF","x":38,"y":0.57},{"s":"BLURBODY","t":"KCF","x":40,"y":0.585},{"s":"BLURBODY","t":"KCF","x":50,"y":0.59},{"s":"BLURBODY","t":"KCF","x":70,"y":0.59},{"s":"BLURBODY","t":"KCF","x":80,"y":0.6},{"s":"BLURBODY","t":"KCF","x":90,"y":0.61},{"s":"BLURBODY","t":"KCF","x":100,"y":0.62},
{"s":"BLURBODY","t":"STC","x":0,"y":0},{"s":"BLURBODY","t":"STC","x":5,"y":0.02},{"s":"BLURBODY","t":"STC","x":10,"y":0.07},{"s":"BLURBODY","t":"STC","x":15,"y":0.14},{"s":"BLURBODY","t":"STC","x":20,"y":0.2},{"s":"BLURBODY","t":"STC","x":25,"y":0.22},{"s":"BLURBODY","t":"STC","x":30,"y":0.24},{"s":"BLURBODY","t":"STC","x":35,"y":0.27},{"s":"BLURBODY","t":"STC","x":38,"y":0.3},{"s":"BLURBODY","t":"STC","x":40,"y":0.34},{"s":"BLURBODY","t":"STC","x":45,"y":0.37},{"s":"BLURBODY","t":"STC","x":50,"y":0.4},{"s":"BLURBODY","t":"STC","x":60,"y":0.42},{"s":"BLURBODY","t":"STC","x":70,"y":0.44},{"s":"BLURBODY","t":"STC","x":100,"y":0.44},
{"s":"BLURBODY","t":"DSST","x":0,"y":0},{"s":"BLURBODY","t":"DSST","x":2,"y":0.05},{"s":"BLURBODY","t":"DSST","x":4,"y":0.2},{"s":"BLURBODY","t":"DSST","x":6,"y":0.38},{"s":"BLURBODY","t":"DSST","x":8,"y":0.47},{"s":"BLURBODY","t":"DSST","x":10,"y":0.53},{"s":"BLURBODY","t":"DSST","x":12,"y":0.58},{"s":"BLURBODY","t":"DSST","x":14,"y":0.6},{"s":"BLURBODY","t":"DSST","x":17,"y":0.62},{"s":"BLURBODY","t":"DSST","x":20,"y":0.625},{"s":"BLURBODY","t":"DSST","x":40,"y":0.64},{"s":"BLURBODY","t":"DSST","x":100,"y":0.645},
{"s":"BLURBODY","t":"EALO-SCA","x":0,"y":0},{"s":"BLURBODY","t":"EALO-SCA","x":5,"y":0.05},{"s":"BLURBODY","t":"EALO-SCA","x":8,"y":0.1},{"s":"BLURBODY","t":"EALO-SCA","x":10,"y":0.13},{"s":"BLURBODY","t":"EALO-SCA","x":13,"y":0.18},{"s":"BLURBODY","t":"EALO-SCA","x":16,"y":0.23},{"s":"BLURBODY","t":"EALO-SCA","x":20,"y":0.33},{"s":"BLURBODY","t":"EALO-SCA","x":23,"y":0.42},{"s":"BLURBODY","t":"EALO-SCA","x":25,"y":0.5},{"s":"BLURBODY","t":"EALO-SCA","x":27,"y":0.55},{"s":"BLURBODY","t":"EALO-SCA","x":30,"y":0.65},{"s":"BLURBODY","t":"EALO-SCA","x":32,"y":0.71},{"s":"BLURBODY","t":"EALO-SCA","x":35,"y":0.74},{"s":"BLURBODY","t":"EALO-SCA","x":38,"y":0.78},{"s":"BLURBODY","t":"EALO-SCA","x":42,"y":0.82},{"s":"BLURBODY","t":"EALO-SCA","x":45,"y":0.86},{"s":"BLURBODY","t":"EALO-SCA","x":50,"y":0.89},{"s":"BLURBODY","t":"EALO-SCA","x":55,"y":0.91},{"s":"BLURBODY","t":"EALO-SCA","x":60,"y":0.93},{"s":"BLURBODY","t":"EALO-SCA","x":65,"y":0.95},{"s":"BLURBODY","t":"EALO-SCA","x":70,"y":0.99},{"s":"BLURBODY","t":"EALO-SCA","x":75,"y":1},{"s":"BLURBODY","t":"EALO-SCA","x":100,"y":1},
{"s":"BLURBODY","t":"CACF","x":0,"y":0},{"s":"BLURBODY","t":"CACF","x":5,"y":0.03},{"s":"BLURBODY","t":"CACF","x":10,"y":0.07},{"s":"BLURBODY","t":"CACF","x":15,"y":0.14},{"s":"BLURBODY","t":"CACF","x":20,"y":0.25},{"s":"BLURBODY","t":"CACF","x":25,"y":0.38},{"s":"BLURBODY","t":"CACF","x":30,"y":0.5},{"s":"BLURBODY","t":"CACF","x":35,"y":0.62},{"s":"BLURBODY","t":"CACF","x":40,"y":0.72},{"s":"BLURBODY","t":"CACF","x":45,"y":0.8},{"s":"BLURBODY","t":"CACF","x":50,"y":0.85},{"s":"BLURBODY","t":"CACF","x":55,"y":0.88},{"s":"BLURBODY","t":"CACF","x":60,"y":0.9},{"s":"BLURBODY","t":"CACF","x":65,"y":0.92},{"s":"BLURBODY","t":"CACF","x":70,"y":0.95},{"s":"BLURBODY","t":"CACF","x":75,"y":0.97},{"s":"BLURBODY","t":"CACF","x":80,"y":0.98},{"s":"BLURBODY","t":"CACF","x":100,"y":0.98},
{"s":"BLURBODY","t":"LSST","x":0,"y":0},{"s":"BLURBODY","t":"LSST","x":10,"y":0.03},{"s":"BLURBODY","t":"LSST","x":20,"y":0.04},{"s":"BLURBODY","t":"LSST","x":25,"y":0.045},{"s":"BLURBODY","t":"LSST","x":30,"y":0.06},{"s":"BLURBODY","t":"LSST","x":40,"y":0.07},{"s":"BLURBODY","t":"LSST","x":50,"y":0.09},{"s":"BLURBODY","t":"LSST","x":60,"y":0.1},{"s":"BLURBODY","t":"LSST","x":70,"y":0.13},{"s":"BLURBODY","t":"LSST","x":80,"y":0.15},{"s":"BLURBODY","t":"LSST","x":90,"y":0.16},{"s":"BLURBODY","t":"LSST","x":95,"y":0.16},{"s":"BLURBODY","t":"LSST","x":100,"y":0.2},

{"s":"FHC","t":"FCT","x":0,"y":0},{"s":"FHC","t":"FCT","x":8,"y":0.01},{"s":"FHC","t":"FCT","x":12,"y":0.02},{"s":"FHC","t":"FCT","x":20,"y":0.035},{"s":"FHC","t":"FCT","x":30,"y":0.045},{"s":"FHC","t":"FCT","x":36,"y":0.055},{"s":"FHC","t":"FCT","x":40,"y":0.08},{"s":"FHC","t":"FCT","x":45,"y":0.09},{"s":"FHC","t":"FCT","x":48,"y":0.12},{"s":"FHC","t":"FCT","x":50,"y":0.17},{"s":"FHC","t":"FCT","x":53,"y":0.25},{"s":"FHC","t":"FCT","x":56,"y":0.3},{"s":"FHC","t":"FCT","x":60,"y":0.35},{"s":"FHC","t":"FCT","x":63,"y":0.38},{"s":"FHC","t":"FCT","x":65,"y":0.39},{"s":"FHC","t":"FCT","x":75,"y":0.4},{"s":"FHC","t":"FCT","x":90,"y":0.41},{"s":"FHC","t":"FCT","x":100,"y":0.42},
{"s":"FHC","t":"CSK","x":0,"y":0},{"s":"FHC","t":"CSK","x":6,"y":0.01},{"s":"FHC","t":"CSK","x":10,"y":0.04},{"s":"FHC","t":"CSK","x":14,"y":0.1},{"s":"FHC","t":"CSK","x":18,"y":0.15},{"s":"FHC","t":"CSK","x":21,"y":0.19},{"s":"FHC","t":"CSK","x":25,"y":0.2},{"s":"FHC","t":"CSK","x":27,"y":0.21},{"s":"FHC","t":"CSK","x":30,"y":0.24},{"s":"FHC","t":"CSK","x":35,"y":0.245},{"s":"FHC","t":"CSK","x":100,"y":0.245},
{"s":"FHC","t":"KCF","x":0,"y":0},{"s":"FHC","t":"KCF","x":2,"y":0.01},{"s":"FHC","t":"KCF","x":4,"y":0.05},{"s":"FHC","t":"KCF","x":8,"y":0.1},{"s":"FHC","t":"KCF","x":12,"y":0.17},{"s":"FHC","t":"KCF","x":16,"y":0.24},{"s":"FHC","t":"KCF","x":18,"y":0.26},{"s":"FHC","t":"KCF","x":22,"y":0.29},{"s":"FHC","t":"KCF","x":27,"y":0.31},{"s":"FHC","t":"KCF","x":30,"y":0.32},{"s":"FHC","t":"KCF","x":35,"y":0.33},{"s":"FHC","t":"KCF","x":100,"y":0.33},
{"s":"FHC","t":"DSST","x":0,"y":0},{"s":"FHC","t":"DSST","x":2,"y":0.01},{"s":"FHC","t":"DSST","x":4,"y":0.05},{"s":"FHC","t":"DSST","x":8,"y":0.12},{"s":"FHC","t":"DSST","x":12,"y":0.17},{"s":"FHC","t":"DSST","x":16,"y":0.22},{"s":"FHC","t":"DSST","x":18,"y":0.245},{"s":"FHC","t":"DSST","x":25,"y":0.245},{"s":"FHC","t":"DSST","x":100,"y":0.245},
{"s":"FHC","t":"STC","x":0,"y":0},{"s":"FHC","t":"STC","x":2,"y":0.01},{"s":"FHC","t":"STC","x":4,"y":0.04},{"s":"FHC","t":"STC","x":8,"y":0.1},{"s":"FHC","t":"STC","x":12,"y":0.16},{"s":"FHC","t":"STC","x":16,"y":0.21},{"s":"FHC","t":"STC","x":18,"y":0.24},{"s":"FHC","t":"STC","x":22,"y":0.245},{"s":"FHC","t":"STC","x":100,"y":0.245},
{"s":"FHC","t":"EALO-SCA","x":0,"y":0},{"s":"FHC","t":"EALO-SCA","x":2,"y":0.01},{"s":"FHC","t":"EALO-SCA","x":4,"y":0.05},{"s":"FHC","t":"EALO-SCA","x":6,"y":0.12},{"s":"FHC","t":"EALO-SCA","x":8,"y":0.2},{"s":"FHC","t":"EALO-SCA","x":10,"y":0.3},{"s":"FHC","t":"EALO-SCA","x":12,"y":0.42},{"s":"FHC","t":"EALO-SCA","x":14,"y":0.55},{"s":"FHC","t":"EALO-SCA","x":16,"y":0.63},{"s":"FHC","t":"EALO-SCA","x":18,"y":0.68},{"s":"FHC","t":"EALO-SCA","x":20,"y":0.74},{"s":"FHC","t":"EALO-SCA","x":22,"y":0.8},{"s":"FHC","t":"EALO-SCA","x":25,"y":0.85},{"s":"FHC","t":"EALO-SCA","x":28,"y":0.9},{"s":"FHC","t":"EALO-SCA","x":30,"y":0.95},{"s":"FHC","t":"EALO-SCA","x":33,"y":0.96},{"s":"FHC","t":"EALO-SCA","x":35,"y":0.98},{"s":"FHC","t":"EALO-SCA","x":37,"y":1},{"s":"FHC","t":"EALO-SCA","x":100,"y":1},
{"s":"FHC","t":"CACF","x":0,"y":0},{"s":"FHC","t":"CACF","x":4,"y":0.03},{"s":"FHC","t":"CACF","x":8,"y":0.1},{"s":"FHC","t":"CACF","x":12,"y":0.17},{"s":"FHC","t":"CACF","x":15,"y":0.25},{"s":"FHC","t":"CACF","x":18,"y":0.35},{"s":"FHC","t":"CACF","x":20,"y":0.45},{"s":"FHC","t":"CACF","x":22,"y":0.55},{"s":"FHC","t":"CACF","x":25,"y":0.65},{"s":"FHC","t":"CACF","x":27,"y":0.72},{"s":"FHC","t":"CACF","x":30,"y":0.77},{"s":"FHC","t":"CACF","x":33,"y":0.8},{"s":"FHC","t":"CACF","x":36,"y":0.82},{"s":"FHC","t":"CACF","x":40,"y":0.85},{"s":"FHC","t":"CACF","x":45,"y":0.9},{"s":"FHC","t":"CACF","x":50,"y":0.93},{"s":"FHC","t":"CACF","x":55,"y":0.97},{"s":"FHC","t":"CACF","x":58,"y":1},{"s":"FHC","t":"CACF","x":100,"y":1},
{"s":"FHC","t":"LSST","x":0,"y":0},{"s":"FHC","t":"LSST","x":6,"y":0.01},{"s":"FHC","t":"LSST","x":8,"y":0.03},{"s":"FHC","t":"LSST","x":12,"y":0.04},{"s":"FHC","t":"LSST","x":16,"y":0.05},{"s":"FHC","t":"LSST","x":20,"y":0.07},{"s":"FHC","t":"LSST","x":25,"y":0.1},{"s":"FHC","t":"LSST","x":30,"y":0.14},{"s":"FHC","t":"LSST","x":35,"y":0.18},{"s":"FHC","t":"LSST","x":40,"y":0.23},{"s":"FHC","t":"LSST","x":45,"y":0.27},{"s":"FHC","t":"LSST","x":50,"y":0.29},{"s":"FHC","t":"LSST","x":55,"y":0.31},{"s":"FHC","t":"LSST","x":60,"y":0.32},{"s":"FHC","t":"LSST","x":65,"y":0.32},{"s":"FHC","t":"LSST","x":70,"y":0.35},{"s":"FHC","t":"LSST","x":80,"y":0.37},{"s":"FHC","t":"LSST","x":90,"y":0.39},{"s":"FHC","t":"LSST","x":93,"y":0.41},{"s":"FHC","t":"LSST","x":100,"y":0.41},

{"s":"BLURFACE","t":"FCT","x":0,"y":0},{"s":"BLURFACE","t":"FCT","x":3,"y":0.05},{"s":"BLURFACE","t":"FCT","x":6,"y":0.12},{"s":"BLURFACE","t":"FCT","x":9,"y":0.17},{"s":"BLURFACE","t":"FCT","x":12,"y":0.19},{"s":"BLURFACE","t":"FCT","x":16,"y":0.21},{"s":"BLURFACE","t":"FCT","x":20,"y":0.22},{"s":"BLURFACE","t":"FCT","x":30,"y":0.24},{"s":"BLURFACE","t":"FCT","x":40,"y":0.26},{"s":"BLURFACE","t":"FCT","x":50,"y":0.27},{"s":"BLURFACE","t":"FCT","x":60,"y":0.28},{"s":"BLURFACE","t":"FCT","x":70,"y":0.3},{"s":"BLURFACE","t":"FCT","x":80,"y":0.31},{"s":"BLURFACE","t":"FCT","x":90,"y":0.32},{"s":"BLURFACE","t":"FCT","x":100,"y":0.33},
{"s":"BLURFACE","t":"CSK","x":0,"y":0},{"s":"BLURFACE","t":"CSK","x":3,"y":0.08},{"s":"BLURFACE","t":"CSK","x":6,"y":0.3},{"s":"BLURFACE","t":"CSK","x":9,"y":0.5},{"s":"BLURFACE","t":"CSK","x":12,"y":0.56},{"s":"BLURFACE","t":"CSK","x":15,"y":0.6},{"s":"BLURFACE","t":"CSK","x":20,"y":0.62},{"s":"BLURFACE","t":"CSK","x":100,"y":0.625},
{"s":"BLURFACE","t":"KCF","x":0,"y":0},{"s":"BLURFACE","t":"KCF","x":3,"y":0.1},{"s":"BLURFACE","t":"KCF","x":6,"y":0.35},{"s":"BLURFACE","t":"KCF","x":9,"y":0.52},{"s":"BLURFACE","t":"KCF","x":12,"y":0.57},{"s":"BLURFACE","t":"KCF","x":16,"y":0.6},{"s":"BLURFACE","t":"KCF","x":20,"y":0.62},{"s":"BLURFACE","t":"KCF","x":100,"y":0.62},
{"s":"BLURFACE","t":"STC","x":0,"y":0},{"s":"BLURFACE","t":"STC","x":2,"y":0.04},{"s":"BLURFACE","t":"STC","x":4,"y":0.18},{"s":"BLURFACE","t":"STC","x":6,"y":0.4},{"s":"BLURFACE","t":"STC","x":8,"y":0.6},{"s":"BLURFACE","t":"STC","x":10,"y":0.62},{"s":"BLURFACE","t":"STC","x":100,"y":0.62},
{"s":"BLURFACE","t":"DSST","x":0,"y":0},{"s":"BLURFACE","t":"DSST","x":2,"y":0.05},{"s":"BLURFACE","t":"DSST","x":4,"y":0.2},{"s":"BLURFACE","t":"DSST","x":6,"y":0.4},{"s":"BLURFACE","t":"DSST","x":8,"y":0.58},{"s":"BLURFACE","t":"DSST","x":9,"y":0.62},{"s":"BLURFACE","t":"DSST","x":100,"y":0.62},
{"s":"BLURFACE","t":"EALO-SCA","x":0,"y":0},{"s":"BLURFACE","t":"EALO-SCA","x":4,"y":0.02},{"s":"BLURFACE","t":"EALO-SCA","x":8,"y":0.1},{"s":"BLURFACE","t":"EALO-SCA","x":10,"y":0.2},{"s":"BLURFACE","t":"EALO-SCA","x":12,"y":0.4},{"s":"BLURFACE","t":"EALO-SCA","x":14,"y":0.65},{"s":"BLURFACE","t":"EALO-SCA","x":16,"y":0.85},{"s":"BLURFACE","t":"EALO-SCA","x":18,"y":0.95},{"s":"BLURFACE","t":"EALO-SCA","x":20,"y":0.98},{"s":"BLURFACE","t":"EALO-SCA","x":23,"y":1},{"s":"BLURFACE","t":"EALO-SCA","x":100,"y":1},
{"s":"BLURFACE","t":"CACF","x":0,"y":0},{"s":"BLURFACE","t":"CACF","x":2,"y":0.05},{"s":"BLURFACE","t":"CACF","x":4,"y":0.2},{"s":"BLURFACE","t":"CACF","x":6,"y":0.4},{"s":"BLURFACE","t":"CACF","x":8,"y":0.55},{"s":"BLURFACE","t":"CACF","x":10,"y":0.6},{"s":"BLURFACE","t":"CACF","x":12,"y":0.62},{"s":"BLURFACE","t":"CACF","x":100,"y":0.62},
{"s":"BLURFACE","t":"LSST","x":0,"y":0},{"s":"BLURFACE","t":"LSST","x":3,"y":0.05},{"s":"BLURFACE","t":"LSST","x":6,"y":0.12},{"s":"BLURFACE","t":"LSST","x":9,"y":0.2},{"s":"BLURFACE","t":"LSST","x":12,"y":0.26},{"s":"BLURFACE","t":"LSST","x":15,"y":0.3},{"s":"BLURFACE","t":"LSST","x":20,"y":0.33},{"s":"BLURFACE","t":"LSST","x":30,"y":0.36},{"s":"BLURFACE","t":"LSST","x":40,"y":0.38},{"s":"BLURFACE","t":"LSST","x":50,"y":0.39},{"s":"BLURFACE","t":"LSST","x":60,"y":0.4},{"s":"BLURFACE","t":"LSST","x":100,"y":0.4},

{"s":"ZT","t":"FCT","x":0,"y":0},{"s":"ZT","t":"FCT","x":5,"y":0.05},{"s":"ZT","t":"FCT","x":10,"y":0.18},{"s":"ZT","t":"FCT","x":15,"y":0.35},{"s":"ZT","t":"FCT","x":20,"y":0.55},{"s":"ZT","t":"FCT","x":25,"y":0.75},{"s":"ZT","t":"FCT","x":30,"y":0.87},{"s":"ZT","t":"FCT","x":35,"y":0.93},{"s":"ZT","t":"FCT","x":40,"y":0.97},{"s":"ZT","t":"FCT","x":48,"y":1},{"s":"ZT","t":"FCT","x":100,"y":1},
{"s":"ZT","t":"CSK","x":0,"y":0},{"s":"ZT","t":"CSK","x":5,"y":0.08},{"s":"ZT","t":"CSK","x":10,"y":0.1},{"s":"ZT","t":"CSK","x":20,"y":0.12},{"s":"ZT","t":"CSK","x":25,"y":0.15},{"s":"ZT","t":"CSK","x":30,"y":0.2},{"s":"ZT","t":"CSK","x":33,"y":0.3},{"s":"ZT","t":"CSK","x":35,"y":0.45},{"s":"ZT","t":"CSK","x":38,"y":0.65},{"s":"ZT","t":"CSK","x":40,"y":0.8},{"s":"ZT","t":"CSK","x":43,"y":0.88},{"s":"ZT","t":"CSK","x":46,"y":0.92},{"s":"ZT","t":"CSK","x":100,"y":0.92},
{"s":"ZT","t":"KCF","x":0,"y":0},{"s":"ZT","t":"KCF","x":5,"y":0.05},{"s":"ZT","t":"KCF","x":10,"y":0.12},{"s":"ZT","t":"KCF","x":15,"y":0.2},{"s":"ZT","t":"KCF","x":18,"y":0.35},{"s":"ZT","t":"KCF","x":20,"y":0.5},{"s":"ZT","t":"KCF","x":23,"y":0.6},{"s":"ZT","t":"KCF","x":27,"y":0.67},{"s":"ZT","t":"KCF","x":30,"y":0.7},{"s":"ZT","t":"KCF","x":100,"y":0.7},
{"s":"ZT","t":"STC","x":0,"y":0},{"s":"ZT","t":"STC","x":5,"y":0.1},{"s":"ZT","t":"STC","x":10,"y":0.15},{"s":"ZT","t":"STC","x":30,"y":0.15},{"s":"ZT","t":"STC","x":33,"y":0.2},{"s":"ZT","t":"STC","x":36,"y":0.25},{"s":"ZT","t":"STC","x":40,"y":0.26},{"s":"ZT","t":"STC","x":45,"y":0.27},{"s":"ZT","t":"STC","x":50,"y":0.28},{"s":"ZT","t":"STC","x":55,"y":0.32},{"s":"ZT","t":"STC","x":60,"y":0.4},{"s":"ZT","t":"STC","x":65,"y":0.5},{"s":"ZT","t":"STC","x":70,"y":0.6},{"s":"ZT","t":"STC","x":75,"y":0.72},{"s":"ZT","t":"STC","x":78,"y":0.85},{"s":"ZT","t":"STC","x":80,"y":0.9},{"s":"ZT","t":"STC","x":85,"y":0.92},{"s":"ZT","t":"STC","x":100,"y":0.93},
{"s":"ZT","t":"DSST","x":0,"y":0},{"s":"ZT","t":"DSST","x":5,"y":0.05},{"s":"ZT","t":"DSST","x":10,"y":0.12},{"s":"ZT","t":"DSST","x":15,"y":0.2},{"s":"ZT","t":"DSST","x":18,"y":0.35},{"s":"ZT","t":"DSST","x":20,"y":0.5},{"s":"ZT","t":"DSST","x":22,"y":0.62},{"s":"ZT","t":"DSST","x":25,"y":0.72},{"s":"ZT","t":"DSST","x":28,"y":0.77},{"s":"ZT","t":"DSST","x":30,"y":0.78},{"s":"ZT","t":"DSST","x":100,"y":0.78},
{"s":"ZT","t":"EALO-SCA","x":0,"y":0},{"s":"ZT","t":"EALO-SCA","x":3,"y":0.03},{"s":"ZT","t":"EALO-SCA","x":6,"y":0.08},{"s":"ZT","t":"EALO-SCA","x":9,"y":0.15},{"s":"ZT","t":"EALO-SCA","x":12,"y":0.27},{"s":"ZT","t":"EALO-SCA","x":15,"y":0.4},{"s":"ZT","t":"EALO-SCA","x":18,"y":0.55},{"s":"ZT","t":"EALO-SCA","x":21,"y":0.68},{"s":"ZT","t":"EALO-SCA","x":24,"y":0.78},{"s":"ZT","t":"EALO-SCA","x":27,"y":0.85},{"s":"ZT","t":"EALO-SCA","x":30,"y":0.9},{"s":"ZT","t":"EALO-SCA","x":35,"y":0.95},{"s":"ZT","t":"EALO-SCA","x":40,"y":0.98},{"s":"ZT","t":"EALO-SCA","x":45,"y":1},{"s":"ZT","t":"EALO-SCA","x":100,"y":1},
{"s":"ZT","t":"CACF","x":0,"y":0},{"s":"ZT","t":"CACF","x":3,"y":0.04},{"s":"ZT","t":"CACF","x":6,"y":0.1},{"s":"ZT","t":"CACF","x":9,"y":0.18},{"s":"ZT","t":"CACF","x":12,"y":0.3},{"s":"ZT","t":"CACF","x":15,"y":0.45},{"s":"ZT","t":"CACF","x":18,"y":0.58},{"s":"ZT","t":"CACF","x":21,"y":0.7},{"s":"ZT","t":"CACF","x":24,"y":0.8},{"s":"ZT","t":"CACF","x":27,"y":0.86},{"s":"ZT","t":"CACF","x":30,"y":0.9},{"s":"ZT","t":"CACF","x":35,"y":0.94},{"s":"ZT","t":"CACF","x":40,"y":0.97},{"s":"ZT","t":"CACF","x":45,"y":0.99},{"s":"ZT","t":"CACF","x":50,"y":1},{"s":"ZT","t":"CACF","x":100,"y":1},
{"s":"ZT","t":"LSST","x":0,"y":0},{"s":"ZT","t":"LSST","x":3,"y":0.04},{"s":"ZT","t":"LSST","x":6,"y":0.08},{"s":"ZT","t":"LSST","x":8,"y":0.09},{"s":"ZT","t":"LSST","x":100,"y":0.09}
]},
"facet":{"field":"s","type":"nominal","title":null,"sort":["MHYANG","FISH","BOY","HUMAN7","JUMPING","DEER","FACE1","ZXJ","BLURBODY","FHC","BLURFACE","ZT"],
 "header":{"labelExpr":"datum.value + '- DP'","labelFont":"Liberation Sans","labelFontSize":13.5,"labelFontWeight":"normal","labelColor":"black","labelPadding":3}},
"columns":4,
"spacing":{"row":72,"column":73},
"bounds":"flush",
"resolve":{"axis":{"x":"independent","y":"independent"}},
"spec":{
 "width":242,"height":165,
 "layer":[
  {
   "mark":{"type":"line","strokeWidth":1,"interpolate":"monotone"},
   "encoding":{
    "x":{"field":"x","type":"quantitative","scale":{"domain":[0,100],"nice":false},"axis":{"values":[0,20,40,60,80,100],"title":"threshold","titlePadding":1}},
    "y":{"field":"y","type":"quantitative","scale":{"domain":[0,1],"nice":false},"axis":{"values":[0,0.2,0.4,0.6,0.8,1],"format":"~g","title":"Distance Precision","titlePadding":3}},
    "color":{"field":"t","type":"nominal",
     "scale":{"domain":["EALO-SCA","FCT","CSK","LSST","DSST","KCF","STC","CACF"],"range":["#ee2a1e","#111111","#3f4fb5","#cc44bb","#66cc11","#99ddee","#ffe400","#cc44aa"]},
     "legend":{"title":null,"orient":"none","legendX":224,"legendY":688,"values":["EALO-SCA","FCT","CSK","LSST"],"columnPadding":-1}},
    "strokeDash":{"field":"t","type":"nominal",
     "scale":{"domain":["EALO-SCA","FCT","CSK","LSST","DSST","KCF","STC","CACF"],"range":[[1,0],[1,0],[1,0],[1,0],[1,0],[1,0],[1,0],[4,2]]},
     "legend":null},
    "opacity":{"field":"t","type":"nominal",
     "scale":{"domain":["DSST","KCF","STC","CACF","EALO-SCA","FCT","CSK","LSST"],"range":[1,1]},
     "legend":{"title":null,"orient":"none","legendX":224,"legendY":715,"values":["DSST","KCF","STC","CACF"],"columnPadding":30.6,
      "encode":{"symbols":{"update":{"stroke":{"scale":"color","field":"value"},"strokeDash":[{"test":"datum.value === 'CACF'","value":[9,4]},{"value":[1,0]}]}}}}}
   }
  },
  {
   "mark":{"type":"line","strokeOpacity":0},
   "encoding":{
    "x":{"field":"x","type":"quantitative","scale":{"domain":[0,100],"nice":false},"axis":{"orient":"top","values":[0,20,40,60,80,100],"labels":false,"title":null}},
    "y":{"field":"y","type":"quantitative","scale":{"domain":[0,1],"nice":false},"axis":{"orient":"right","values":[0,0.2,0.4,0.6,0.8,1],"labels":false,"title":null}}
   }
  }
 ],
 "resolve":{"axis":{"x":"independent","y":"independent"}}
}
},
{
"hconcat":[
 {"data":{"values":[{"c":"Fig. 14"}]},"width":1,"height":20,"view":{"stroke":null},
  "mark":{"type":"text","align":"left","baseline":"middle","dx":-43,"font":"Open Sans","fontSize":20,"fontWeight":"bold","color":"black"},
  "encoding":{"text":{"field":"c","type":"nominal"}}},
 {"data":{"values":[{"c":"The average precision of DP"}]},"width":1,"height":20,"view":{"stroke":null},
  "mark":{"type":"text","align":"left","baseline":"middle","dx":-43,"font":"Lato","fontSize":15,"fontWeight":"normal","color":"#222222"},
  "encoding":{"text":{"field":"c","type":"nominal"}}}
],
"spacing":5
}
],
"spacing":105
}
